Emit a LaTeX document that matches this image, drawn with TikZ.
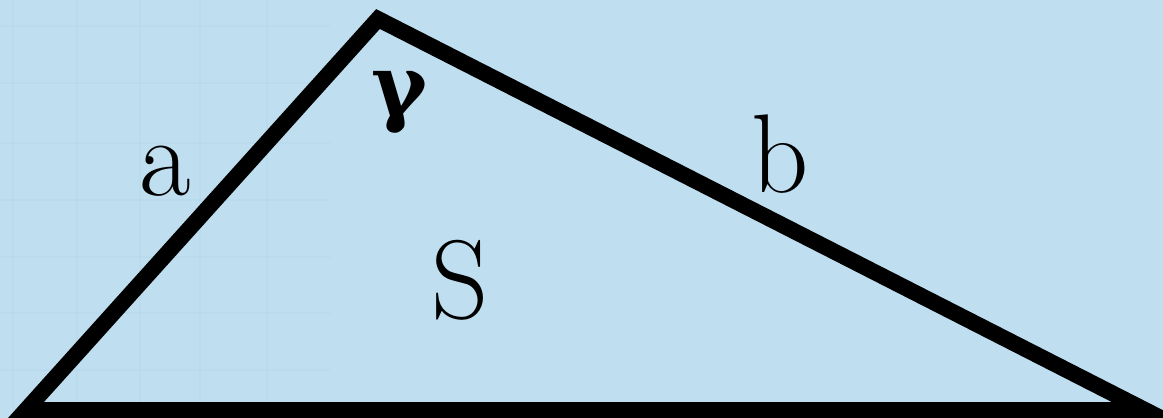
\documentclass[tikz,border=0pt]{standalone}
\usepackage{fontspec}
\newfontfamily\serf{DejaVu Serif}
\definecolor{bg}{HTML}{BFDFF0}
\definecolor{gridc}{HTML}{B7D9ED}
\tikzset{
  side/.style={line width=16pt, line join=miter, draw=black},
  lbl/.style={anchor=base, inner sep=0pt, font=\rmfamily\fontsize{112}{112}\selectfont},
  gridline/.style={draw=gridc, line width=1.5pt, opacity=0.5}
}
\begin{document}
\begin{tikzpicture}[x=1pt,y=-1pt]
\path[fill=bg] (0,0) rectangle (1163,418);
\useasboundingbox (0,0) rectangle (1163,418);
\begin{scope}
\clip (0,0) rectangle (1163,418);
\foreach \gx in {13,77,140,200,267}
  \draw[gridline] (\gx,0) -- (\gx,418);
\foreach \gy in {26,83,143,200,257,313,370}
  \draw[gridline] (0,\gy) -- (330,\gy);
\coordinate (A) at (26,410);
\coordinate (C) at (378,19);
\coordinate (B) at (1145,410);
\draw[side] (A) -- (C) -- (B) -- cycle;
\end{scope}
\node[lbl] (la) at (165,195) {a};
\node[lbl] (lb) at (780,192) {b};
\node[lbl] (ls) at (460,318) {S};
\node[lbl, font=\serf\fontsize{85}{85}\selectfont\bfseries] (lg) at (400,115) {γ};
\end{tikzpicture}
\end{document}
